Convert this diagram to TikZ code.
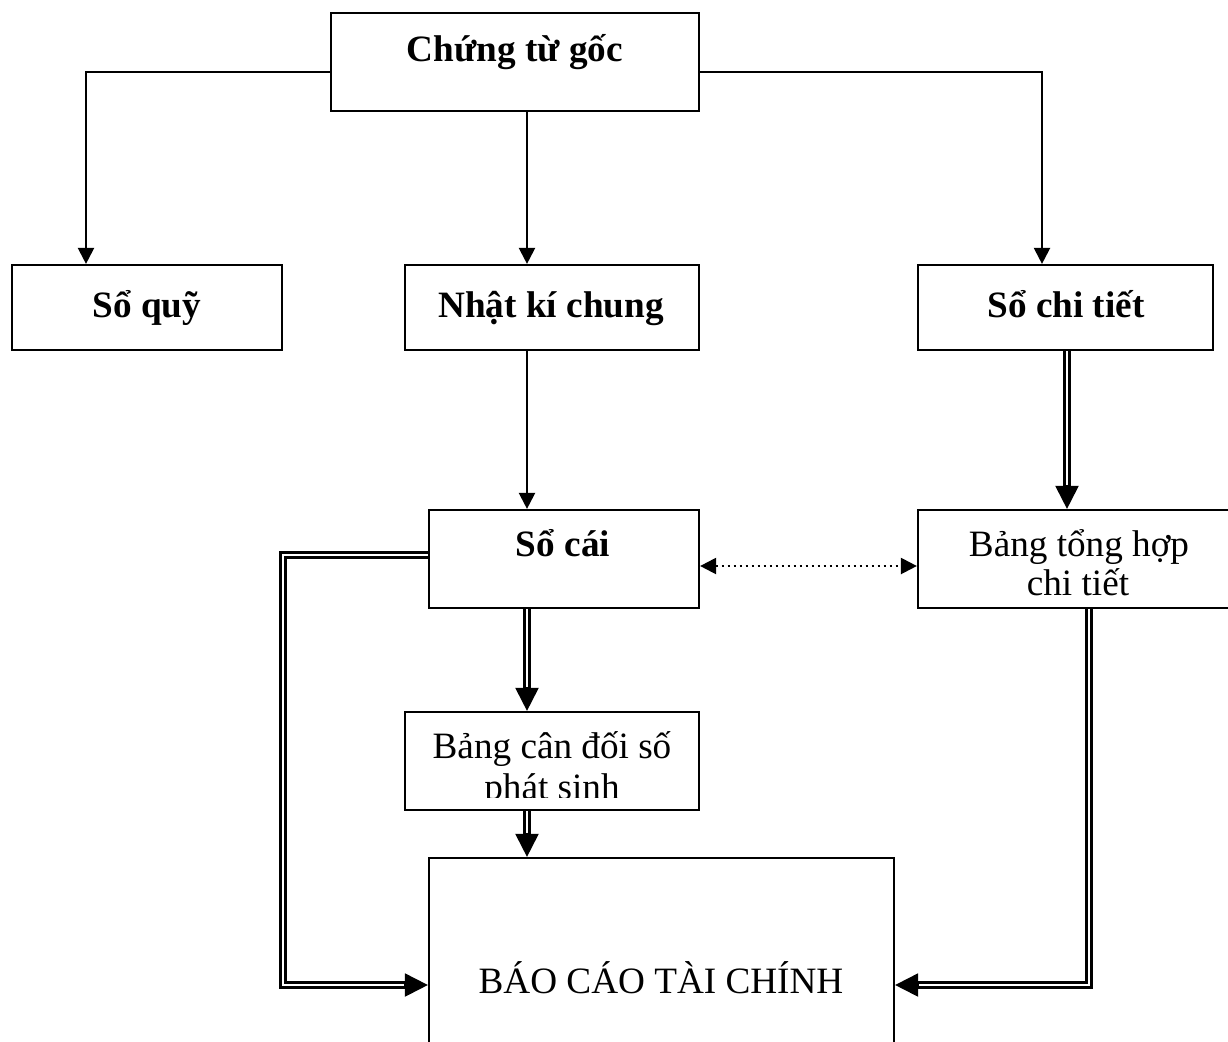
\documentclass[tikz,border=0pt]{standalone}
\usepackage{fontspec}
\setmainfont{Liberation Serif}
\usetikzlibrary{arrows.meta}
\begin{document}
\begin{tikzpicture}[x=0.5pt,y=-0.5pt,
  box/.style={draw, line width=1.1pt, inner sep=0pt},
  lbl/.style={font=\fontsize{18.6}{20}\selectfont, inner sep=0pt, anchor=base},
  blbl/.style={lbl, font=\fontsize{18.6}{20}\selectfont\bfseries},
  arr/.style={line width=1.1pt, -{Triangle[length=8pt,width=8pt]}},
  dbl/.style={double, double distance=1.4pt, line width=1.2pt, line join=miter, shorten >=9pt},
  dtip/.style={line width=1pt, -{Triangle[length=11.5pt,width=11.5pt]}},
  dotarr/.style={line width=1.1pt, dash pattern=on 1pt off 2pt,
    {Triangle[length=8pt,width=8pt]}-{Triangle[length=8pt,width=8pt]}}]
\useasboundingbox (0,0) rectangle (1228,1041);

% boxes
\node[box, minimum width=184pt, minimum height=49pt] (ctg) at (515,62) {};
\node[box, minimum width=135pt, minimum height=42.5pt] (squy) at (147,307.5) {};
\node[box, minimum width=147pt, minimum height=42.5pt] (njc) at (552,307.5) {};
\node[box, minimum width=147.5pt, minimum height=42.5pt] (sct) at (1065.5,307.5) {};
\node[box, minimum width=135pt, minimum height=49pt] (socai) at (564,559) {};
\node[box, minimum width=161pt, minimum height=49pt] (bth) at (1079,559) {};
\node[box, minimum width=147pt, minimum height=49pt] (bcd) at (552,761) {};
\node[box, minimum width=232.5pt, minimum height=111pt] (bctc) at (661.5,969) {};

% labels
\node[blbl] (t-ctg) at (515,61) {Chứng từ gốc};
\node[blbl] (t-squy) at (147,317) {Sổ quỹ};
\node[blbl] (t-njc) at (551,317) {Nhật kí chung};
\node[blbl] (t-sct) at (1066,317) {Sổ chi tiết};
\node[blbl] (t-socai) at (563,556) {Sổ cái};
\node[lbl] (t-bth1) at (1079,556) {Bảng tổng hợp};
\node[lbl] (t-bth2) at (1078,595) {chi tiết};
\node[lbl] (t-bcd1) at (552,758) {Bảng cân đối số};
\begin{scope}
  \clip (405,712) rectangle (699,797);
  \node[lbl] (t-bcd2) at (552,799) {phát sinh};
\end{scope}
\node[lbl] (t-bctc) at (661,993) {BÁO CÁO TÀI CHÍNH};

% bend and column coordinates
\coordinate (lx) at (86,72);
\coordinate (rx) at (1042,72);
\coordinate (mx) at (527,0);
\coordinate (sx) at (1067,0);
\coordinate (lb1) at (283,555);
\coordinate (lb2) at (283,985);
\coordinate (rb1) at (1089,0);
\coordinate (rb2) at (1089,985);
\coordinate (dy) at (0,566);

% single arrows
\draw[arr] (lx -| ctg.west) -- (lx) -- (lx |- squy.north);
\draw[arr] (mx |- ctg.south) -- (mx |- njc.north);
\draw[arr] (rx -| ctg.east) -- (rx) -- (rx |- sct.north);
\draw[arr] (mx |- njc.south) -- (mx |- socai.north);

% double arrows
\coordinate (e1) at (sx |- bth.north);
\draw[dbl] (sx |- sct.south) -- (e1);
\draw[dtip] ([yshift=12pt]e1) -- (e1);

\coordinate (e2) at (mx |- bcd.north);
\draw[dbl] (mx |- socai.south) -- (e2);
\draw[dtip] ([yshift=12pt]e2) -- (e2);

\coordinate (e3) at (mx |- bctc.north);
\draw[dbl] (mx |- bcd.south) -- (e3);
\draw[dtip] ([yshift=12pt]e3) -- (e3);

\coordinate (e4) at (lb2 -| bctc.west);
\draw[dbl] (lb1 -| socai.west) -- (lb1) -- (lb2) -- (e4);
\draw[dtip] ([xshift=-12pt]e4) -- (e4);

\coordinate (e5) at (rb2 -| bctc.east);
\draw[dbl] (rb1 |- bth.south) -- (rb2) -- (e5);
\draw[dtip] ([xshift=12pt]e5) -- (e5);

% dotted link
\draw[dotarr] (dy -| socai.east) -- (dy -| bth.west);
\end{tikzpicture}
\end{document}
